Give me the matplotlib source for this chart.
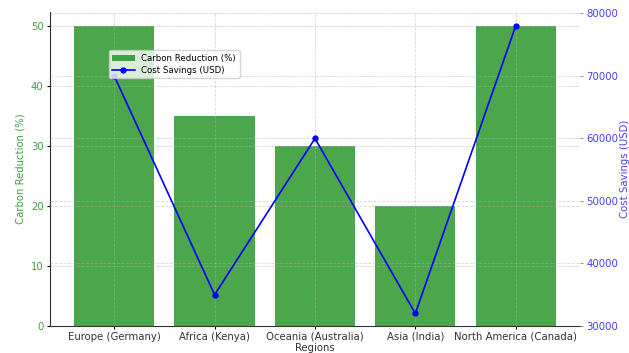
import matplotlib
matplotlib.use("Agg")
import matplotlib.pyplot as plt

regions = ["Europe (Germany)", "Africa (Kenya)", "Oceania (Australia)", "Asia (India)", "North America (Canada)"]
carbon_reduction = [50, 35, 30, 20, 50]
cost_savings = [70000, 35000, 60000, 32000, 78000]

fig = plt.figure(figsize=(6.29, 3.53), dpi=100)
ax1 = fig.add_axes([0.0795, 0.0765, 0.8425, 0.890])

bars = ax1.bar(regions, carbon_reduction, color="green", alpha=0.7, width=0.8,
               label="Carbon Reduction (%)")
ax1.set_xlabel("Regions", fontsize=7.3, labelpad=1, color="#333333")
ax1.set_ylabel("Carbon Reduction (%)", color="green", fontsize=7.3, alpha=0.75, labelpad=4)
ax1.tick_params(axis="y", labelcolor="green", labelsize=7.3, length=2.5, pad=2)
ax1.tick_params(axis="x", labelsize=7.3, pad=1.5, length=2.5, labelcolor="#333333")
ax1.grid(True, linestyle="--", alpha=0.5, linewidth=0.6)
ax1.set_xlim(-0.64, 4.64)
ax1.set_ylim(0, 52.4)

ax2 = ax1.twinx()
line, = ax2.plot(regions, cost_savings, color="blue", marker="o", markersize=3.5,
                 linewidth=1.2, label="Cost Savings (USD)")
ax2.set_ylabel("Cost Savings (USD)", color="blue", fontsize=7.3, alpha=0.75, labelpad=1)
ax2.tick_params(axis="y", labelcolor="blue", labelsize=7.3, length=2.5, pad=2, color="#999999")
ax2.set_ylim(30000, 80250)
ax2.grid(True, linestyle="--", alpha=0.5, linewidth=0.6)
for lbl in ax2.get_yticklabels():
    lbl.set_alpha(0.75)
for lbl in ax1.get_yticklabels():
    lbl.set_alpha(0.75)

for sp in ("top", "right"):
    ax1.spines[sp].set_visible(False)
    ax2.spines[sp].set_visible(False)
ax2.spines["left"].set_visible(False)
ax2.spines["bottom"].set_visible(False)
ax1.spines["left"].set_color("#333333")
ax1.spines["bottom"].set_color("#333333")

fig.legend(handles=[bars, line], loc="upper left", bbox_to_anchor=(0.166, 0.87),
           fontsize=6.2, framealpha=0.8, borderpad=0.4, handlelength=2.6,
           labelspacing=0.35, handletextpad=0.8)

fig.savefig("out.png", dpi=100)
